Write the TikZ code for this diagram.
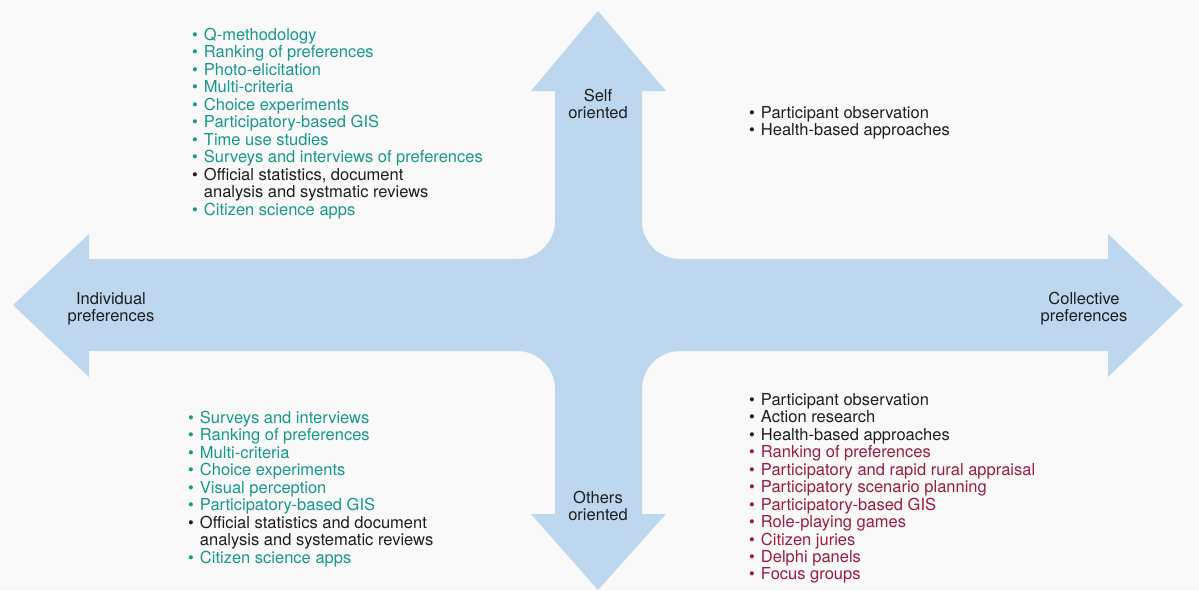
\documentclass[tikz,border=0pt]{standalone}
\usepackage{fontspec}
\setmainfont{TeX Gyre Heros}
\usepackage{xcolor}
\usepackage{tikz}
\definecolor{bgGrey}{HTML}{F9F9F9}
\definecolor{arrowBlue}{HTML}{BDD7EE}
\definecolor{methodTeal}{HTML}{17998A}
\definecolor{methodRed}{HTML}{9B1C3C}
\definecolor{labelInk}{HTML}{1E1E1E}
\newcommand{\tealpt}[1]{\textcolor{methodTeal}{\textbullet} & \textcolor{methodTeal}{#1}\\}
\newcommand{\redpt}[1]{\textcolor{methodRed}{\textbullet} & \textcolor{methodRed}{#1}\\}
\newcommand{\blackpt}[1]{\textcolor{labelInk}{\textbullet} & \textcolor{labelInk}{#1}\\}
\newcommand{\cont}[1]{ & \textcolor{labelInk}{#1}\\}

\begin{document}
\begin{tikzpicture}[
    x=1pt, y=-1pt,
    lbl/.style={align=center, inner sep=0pt, text=labelInk, font=\fontsize{16.5}{17.4}\selectfont},
    methods/.style={anchor=base west, inner sep=0pt, font=\fontsize{16.5}{17.4}\selectfont}
]
% Background
\fill[bgGrey] (0,0) rectangle (1199,590);
\useasboundingbox (0,0) rectangle (1199,590);
% Cross of arrows
\fill[arrowBlue] (598,11) -- (666,91) -- (642,91) -- (642,221)
  .. controls (642,242) and (659,259) .. (680,259) -- (1108,259) -- (1108,234)
  -- (1183,305) -- (1108,377) -- (1108,351) -- (680,351)
  .. controls (659,351) and (642,368) .. (642,389) -- (642,514) -- (666,514)
  -- (598,590) -- (531,514) -- (555,514) -- (555,389)
  .. controls (555,368) and (538,351) .. (517,351) -- (89,351) -- (89,377)
  -- (13,305) -- (89,234) -- (89,259) -- (517,259)
  .. controls (538,259) and (555,242) .. (555,221) -- (555,91) -- (531,91) -- cycle;
% Axis labels
\node[lbl] (self) at (598,104) {Self\\oriented};
\node[lbl] (others) at (598,506) {Others\\oriented};
\node[lbl] (indiv) at (111,308.5) {Individual\\preferences};
\node[lbl] (collect) at (1084,308.5) {Collective\\preferences};
% Methods per quadrant
\node[methods] (selfindiv) at (192,40.5) {\begin{tabular}[t]{@{}l@{\hspace{6pt}}l@{}}
  \tealpt{Q-methodology}
  \tealpt{Ranking of preferences}
  \tealpt{Photo-elicitation}
  \tealpt{Multi-criteria}
  \tealpt{Choice experiments}
  \tealpt{Participatory-based GIS}
  \tealpt{Time use studies}
  \tealpt{Surveys and interviews of preferences}
  \blackpt{Official statistics, document}
  \cont{analysis and systmatic reviews}
  \tealpt{Citizen science apps}
\end{tabular}};
\node[methods] (selfcollect) at (749,118.5) {\begin{tabular}[t]{@{}l@{\hspace{6pt}}l@{}}
  \blackpt{Participant observation}
  \blackpt{Health-based approaches}
\end{tabular}};
\node[methods] (othersindiv) at (188,423.5) {\begin{tabular}[t]{@{}l@{\hspace{6pt}}l@{}}
  \tealpt{Surveys and interviews}
  \tealpt{Ranking of preferences}
  \tealpt{Multi-criteria}
  \tealpt{Choice experiments}
  \tealpt{Visual perception}
  \tealpt{Participatory-based GIS}
  \blackpt{Official statistics and document}
  \cont{analysis and systematic reviews}
  \tealpt{Citizen science apps}
\end{tabular}};
\node[methods] (otherscollect) at (749,405.5) {\begin{tabular}[t]{@{}l@{\hspace{6pt}}l@{}}
  \blackpt{Participant observation}
  \blackpt{Action research}
  \blackpt{Health-based approaches}
  \redpt{Ranking of preferences}
  \redpt{Participatory and rapid rural appraisal}
  \redpt{Participatory scenario planning}
  \redpt{Participatory-based GIS}
  \redpt{Role-playing games}
  \redpt{Citizen juries}
  \redpt{Delphi panels}
  \redpt{Focus groups}
\end{tabular}};
\end{tikzpicture}
\end{document}
